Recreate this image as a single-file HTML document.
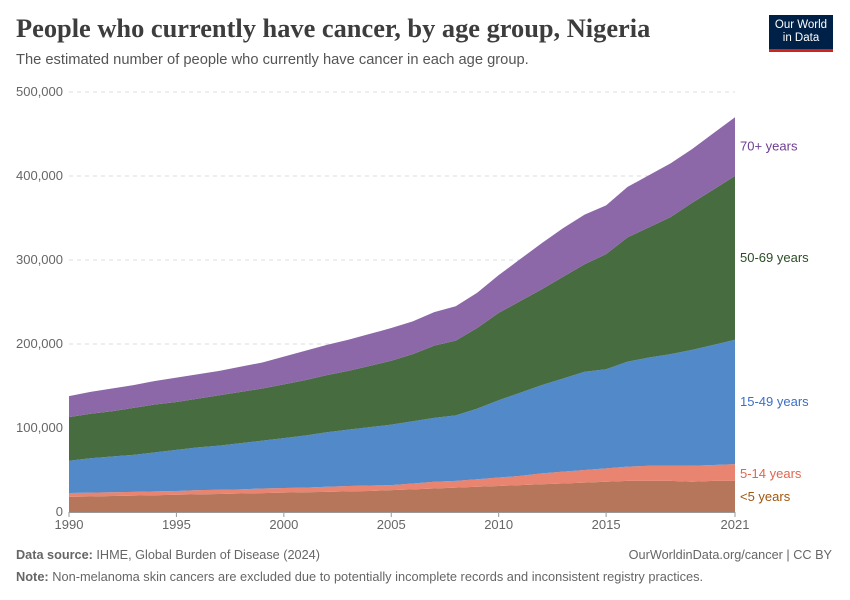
<!DOCTYPE html>
<html><head><meta charset="utf-8"><style>
body{margin:0;background:#fff;font-family:"Liberation Sans",sans-serif;}
#wrap{position:relative;width:850px;height:600px;overflow:hidden;}
.t{position:absolute;white-space:nowrap;}
</style></head><body>
<div id="wrap">
<div class="t" style="left:16px;top:13px;font-family:'Liberation Serif',serif;font-weight:bold;font-size:26.4px;color:#3d3d3d;">People who currently have cancer, by age group, Nigeria</div>
<div class="t" style="left:16px;top:52px;font-size:14.7px;color:#555;">The estimated number of people who currently have cancer in each age group.</div>
<div style="position:absolute;left:769px;top:15px;width:64px;height:37px;background:#002147;border-bottom:3px solid #ce261e;box-sizing:border-box;color:#fff;font-size:11.5px;line-height:13px;text-align:center;padding-top:4px;">Our World<br>in Data</div>
<svg id="chart" width="850" height="600" style="position:absolute;left:0;top:0"></svg>
<div class="t" style="left:16px;top:548px;font-size:12.7px;color:#666;"><b>Data source:</b> IHME, Global Burden of Disease (2024)</div>
<div class="t" style="right:18px;top:548px;font-size:12.7px;color:#666;">OurWorldinData.org/cancer | CC BY</div>
<div class="t" style="left:16px;top:569px;font-size:12.8px;color:#666;"><b>Note:</b> Non-melanoma skin cancers are excluded due to potentially incomplete records and inconsistent registry practices.</div>
</div>
<script>
const years=[];for(let y=1990;y<=2021;y++)years.push(y);
const under5=[18,18.5,19,19.5,20,20.5,21,21.5,22,22.5,23,23.5,24,24.5,25,26,27,28,29,30,31,32,33,34,35,36,37,37,37,36,37,37].map(v=>v*1000);
const age5to14=[4.6,4.5,4.5,4.5,4.5,4.5,5,5,5,5.5,5.5,5.5,6,6.5,6.5,6,7,8,8,9,10,11,13,14,15,16,17,18,18,19,19,20].map(v=>v*1000);
const age15to49=[38.4,41,42.5,44,46.5,49,51,52.5,55,57,59.5,62,65,67,69.5,72,74,76,78,84,92,99,105,111,117,118,125,129,133,138,143,148].map(v=>v*1000);
const age50to69=[52,53,54,56,57,57,58,60,61,62,64,66,68,70,73,76,80,86,89,96,104,109,114,121,128,137,148,155,163,175,185,195].map(v=>v*1000);
const age70plus=[25,26,27,27,28,29,29,29,30,31,33,35,36,37,38,39,39,40,41,42,45,50,55,58,59,58,60,62,64,64,67,70].map(v=>v*1000);
const yTicks=[0,100000,200000,300000,400000,500000];
const yTickLabels=["0","100,000","200,000","300,000","400,000","500,000"];
const xTicks=[1990,1995,2000,2005,2010,2015,2021];
const seriesNames=["<5 years","5-14 years","15-49 years","50-69 years","70+ years"];
const seriesData=[under5,age5to14,age15to49,age50to69,age70plus];
const fills=["#b5765b","#e8846f","#5189c9","#476c40","#8c68a9"];
const labelColors=["#a2560e","#e0664f","#3b6fc4","#2c4d26","#6d3e91"];
const X0=69,X1=735,Y0=512,Y1=92;
const sx=y=>X0+(y-1990)/(2021-1990)*(X1-X0);
const sy=v=>Y0-v/500000*(Y0-Y1);
const svg=document.getElementById('chart');const NS='http://www.w3.org/2000/svg';
function mk(tag,attrs){const e=document.createElementNS(NS,tag);for(const k in attrs)e.setAttribute(k,attrs[k]);svg.appendChild(e);return e;}
yTicks.forEach((t,i)=>{
 if(t>0){const g=mk('line',{x1:X0,x2:X1,y1:sy(t),y2:sy(t),stroke:'#ddd','stroke-dasharray':'4,4'});
 
 }
 const tx=mk('text',{x:63,y:sy(t)+4,'text-anchor':'end','font-size':13,fill:'#666','font-family':'Liberation Sans'});tx.textContent=yTickLabels[i];
 
 
});
let base=years.map(()=>0);
seriesData.forEach((s,si)=>{
 const top=base.map((b,i)=>b+s[i]);
 let d='M'+years.map((y,i)=>sx(y)+','+sy(top[i])).join('L');
 for(let i=years.length-1;i>=0;i--)d+='L'+sx(years[i])+','+sy(base[i]);
 const p=mk('path',{d:d+'Z',fill:fills[si]});
 
 
 const last=years.length-1;
 let ly=sy((base[last]+top[last])/2)+4;
 if(si===0)ly=sy(top[last])+20;
 if(si===1)ly=sy(top[last])+14;
 const lb=mk('text',{x:740,y:ly,'font-size':13,fill:labelColors[si],'font-family':'Liberation Sans'});lb.textContent=seriesNames[si];
 
 
 base=top;
});
mk('line',{x1:X0,x2:X1,y1:Y0+0.5,y2:Y0+0.5,stroke:'#999'});
xTicks.forEach(t=>{
 const l=mk('line',{x1:sx(t),x2:sx(t),y1:Y0,y2:Y0+5,stroke:'#999'});
 
 
 const tx=mk('text',{x:sx(t),y:Y0+17,'text-anchor':'middle','font-size':13,fill:'#666','font-family':'Liberation Sans'});tx.textContent=t;
 
 
});
</script>
</body></html>
